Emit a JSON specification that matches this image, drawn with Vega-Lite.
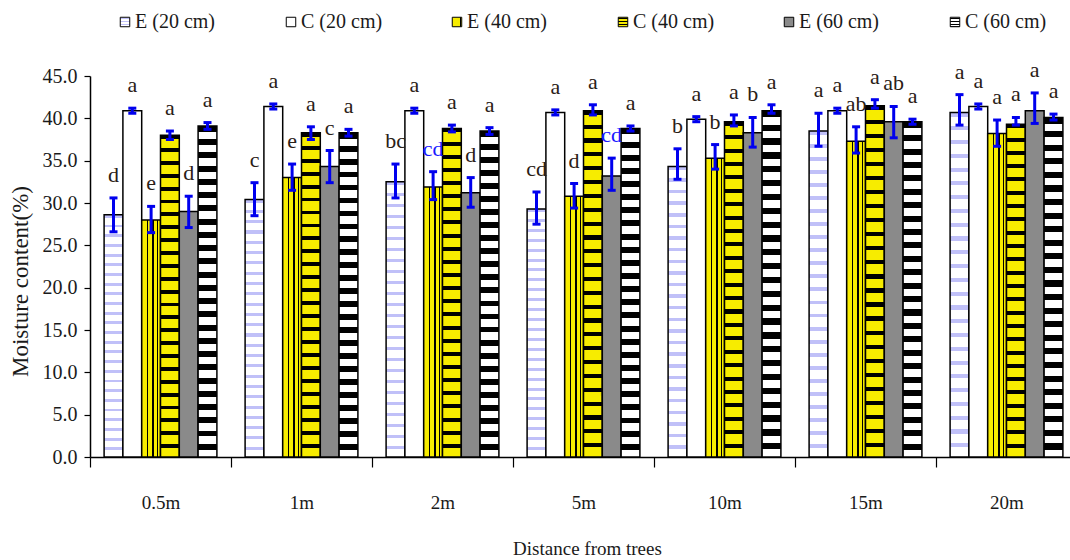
{
"$schema": "https://vega.github.io/schema/vega-lite/v6.json",
"width": 980,
"height": 381,
"autosize": {"type": "none"},
"padding": {"left": 90, "top": 76, "right": 0, "bottom": 103},
"background": "white",
"params": [
{"name": "gE20", "expr": "{gradient:'linear',x1:0,y1:0,x2:0,y2:1,stops:[{offset:0,color:'#c0c0f8'},{offset:0.012,color:'#c0c0f8'},{offset:0.012,color:'#fff'},{offset:0.04,color:'#fff'},{offset:0.04,color:'#c0c0f8'},{offset:0.052,color:'#c0c0f8'},{offset:0.052,color:'#fff'},{offset:0.08,color:'#fff'},{offset:0.08,color:'#c0c0f8'},{offset:0.092,color:'#c0c0f8'},{offset:0.092,color:'#fff'},{offset:0.12,color:'#fff'},{offset:0.12,color:'#c0c0f8'},{offset:0.132,color:'#c0c0f8'},{offset:0.132,color:'#fff'},{offset:0.16,color:'#fff'},{offset:0.16,color:'#c0c0f8'},{offset:0.172,color:'#c0c0f8'},{offset:0.172,color:'#fff'},{offset:0.2,color:'#fff'},{offset:0.2,color:'#c0c0f8'},{offset:0.212,color:'#c0c0f8'},{offset:0.212,color:'#fff'},{offset:0.24,color:'#fff'},{offset:0.24,color:'#c0c0f8'},{offset:0.252,color:'#c0c0f8'},{offset:0.252,color:'#fff'},{offset:0.28,color:'#fff'},{offset:0.28,color:'#c0c0f8'},{offset:0.292,color:'#c0c0f8'},{offset:0.292,color:'#fff'},{offset:0.32,color:'#fff'},{offset:0.32,color:'#c0c0f8'},{offset:0.332,color:'#c0c0f8'},{offset:0.332,color:'#fff'},{offset:0.36,color:'#fff'},{offset:0.36,color:'#c0c0f8'},{offset:0.372,color:'#c0c0f8'},{offset:0.372,color:'#fff'},{offset:0.4,color:'#fff'},{offset:0.4,color:'#c0c0f8'},{offset:0.412,color:'#c0c0f8'},{offset:0.412,color:'#fff'},{offset:0.44,color:'#fff'},{offset:0.44,color:'#c0c0f8'},{offset:0.452,color:'#c0c0f8'},{offset:0.452,color:'#fff'},{offset:0.48,color:'#fff'},{offset:0.48,color:'#c0c0f8'},{offset:0.492,color:'#c0c0f8'},{offset:0.492,color:'#fff'},{offset:0.52,color:'#fff'},{offset:0.52,color:'#c0c0f8'},{offset:0.532,color:'#c0c0f8'},{offset:0.532,color:'#fff'},{offset:0.56,color:'#fff'},{offset:0.56,color:'#c0c0f8'},{offset:0.572,color:'#c0c0f8'},{offset:0.572,color:'#fff'},{offset:0.6,color:'#fff'},{offset:0.6,color:'#c0c0f8'},{offset:0.612,color:'#c0c0f8'},{offset:0.612,color:'#fff'},{offset:0.64,color:'#fff'},{offset:0.64,color:'#c0c0f8'},{offset:0.652,color:'#c0c0f8'},{offset:0.652,color:'#fff'},{offset:0.68,color:'#fff'},{offset:0.68,color:'#c0c0f8'},{offset:0.692,color:'#c0c0f8'},{offset:0.692,color:'#fff'},{offset:0.72,color:'#fff'},{offset:0.72,color:'#c0c0f8'},{offset:0.732,color:'#c0c0f8'},{offset:0.732,color:'#fff'},{offset:0.76,color:'#fff'},{offset:0.76,color:'#c0c0f8'},{offset:0.772,color:'#c0c0f8'},{offset:0.772,color:'#fff'},{offset:0.8,color:'#fff'},{offset:0.8,color:'#c0c0f8'},{offset:0.812,color:'#c0c0f8'},{offset:0.812,color:'#fff'},{offset:0.84,color:'#fff'},{offset:0.84,color:'#c0c0f8'},{offset:0.852,color:'#c0c0f8'},{offset:0.852,color:'#fff'},{offset:0.88,color:'#fff'},{offset:0.88,color:'#c0c0f8'},{offset:0.892,color:'#c0c0f8'},{offset:0.892,color:'#fff'},{offset:0.92,color:'#fff'},{offset:0.92,color:'#c0c0f8'},{offset:0.932,color:'#c0c0f8'},{offset:0.932,color:'#fff'},{offset:0.96,color:'#fff'},{offset:0.96,color:'#c0c0f8'},{offset:0.972,color:'#c0c0f8'},{offset:0.972,color:'#fff'},{offset:1,color:'#fff'}]}"},
{"name": "gE40", "expr": "{gradient:'linear',x1:0,y1:0,x2:1,y2:0,stops:[{offset:0,color:'#f7ec00'},{offset:0.27,color:'#f7ec00'},{offset:0.27,color:'#000'},{offset:0.34,color:'#000'},{offset:0.34,color:'#f7ec00'},{offset:0.57,color:'#f7ec00'},{offset:0.57,color:'#000'},{offset:0.64,color:'#000'},{offset:0.64,color:'#f7ec00'},{offset:0.82,color:'#f7ec00'},{offset:0.82,color:'#000'},{offset:0.89,color:'#000'},{offset:0.89,color:'#f7ec00'},{offset:1,color:'#f7ec00'}]}"},
{"name": "gC40", "expr": "{gradient:'linear',x1:0,y1:0,x2:0,y2:1,stops:[{offset:0,color:'#000'},{offset:0.012,color:'#000'},{offset:0.012,color:'#f7ec00'},{offset:0.04,color:'#f7ec00'},{offset:0.04,color:'#000'},{offset:0.052,color:'#000'},{offset:0.052,color:'#f7ec00'},{offset:0.08,color:'#f7ec00'},{offset:0.08,color:'#000'},{offset:0.092,color:'#000'},{offset:0.092,color:'#f7ec00'},{offset:0.12,color:'#f7ec00'},{offset:0.12,color:'#000'},{offset:0.132,color:'#000'},{offset:0.132,color:'#f7ec00'},{offset:0.16,color:'#f7ec00'},{offset:0.16,color:'#000'},{offset:0.172,color:'#000'},{offset:0.172,color:'#f7ec00'},{offset:0.2,color:'#f7ec00'},{offset:0.2,color:'#000'},{offset:0.212,color:'#000'},{offset:0.212,color:'#f7ec00'},{offset:0.24,color:'#f7ec00'},{offset:0.24,color:'#000'},{offset:0.252,color:'#000'},{offset:0.252,color:'#f7ec00'},{offset:0.28,color:'#f7ec00'},{offset:0.28,color:'#000'},{offset:0.292,color:'#000'},{offset:0.292,color:'#f7ec00'},{offset:0.32,color:'#f7ec00'},{offset:0.32,color:'#000'},{offset:0.332,color:'#000'},{offset:0.332,color:'#f7ec00'},{offset:0.36,color:'#f7ec00'},{offset:0.36,color:'#000'},{offset:0.372,color:'#000'},{offset:0.372,color:'#f7ec00'},{offset:0.4,color:'#f7ec00'},{offset:0.4,color:'#000'},{offset:0.412,color:'#000'},{offset:0.412,color:'#f7ec00'},{offset:0.44,color:'#f7ec00'},{offset:0.44,color:'#000'},{offset:0.452,color:'#000'},{offset:0.452,color:'#f7ec00'},{offset:0.48,color:'#f7ec00'},{offset:0.48,color:'#000'},{offset:0.492,color:'#000'},{offset:0.492,color:'#f7ec00'},{offset:0.52,color:'#f7ec00'},{offset:0.52,color:'#000'},{offset:0.532,color:'#000'},{offset:0.532,color:'#f7ec00'},{offset:0.56,color:'#f7ec00'},{offset:0.56,color:'#000'},{offset:0.572,color:'#000'},{offset:0.572,color:'#f7ec00'},{offset:0.6,color:'#f7ec00'},{offset:0.6,color:'#000'},{offset:0.612,color:'#000'},{offset:0.612,color:'#f7ec00'},{offset:0.64,color:'#f7ec00'},{offset:0.64,color:'#000'},{offset:0.652,color:'#000'},{offset:0.652,color:'#f7ec00'},{offset:0.68,color:'#f7ec00'},{offset:0.68,color:'#000'},{offset:0.692,color:'#000'},{offset:0.692,color:'#f7ec00'},{offset:0.72,color:'#f7ec00'},{offset:0.72,color:'#000'},{offset:0.732,color:'#000'},{offset:0.732,color:'#f7ec00'},{offset:0.76,color:'#f7ec00'},{offset:0.76,color:'#000'},{offset:0.772,color:'#000'},{offset:0.772,color:'#f7ec00'},{offset:0.8,color:'#f7ec00'},{offset:0.8,color:'#000'},{offset:0.812,color:'#000'},{offset:0.812,color:'#f7ec00'},{offset:0.84,color:'#f7ec00'},{offset:0.84,color:'#000'},{offset:0.852,color:'#000'},{offset:0.852,color:'#f7ec00'},{offset:0.88,color:'#f7ec00'},{offset:0.88,color:'#000'},{offset:0.892,color:'#000'},{offset:0.892,color:'#f7ec00'},{offset:0.92,color:'#f7ec00'},{offset:0.92,color:'#000'},{offset:0.932,color:'#000'},{offset:0.932,color:'#f7ec00'},{offset:0.96,color:'#f7ec00'},{offset:0.96,color:'#000'},{offset:0.972,color:'#000'},{offset:0.972,color:'#f7ec00'},{offset:1,color:'#f7ec00'}]}"},
{"name": "gC60", "expr": "{gradient:'linear',x1:0,y1:0,x2:0,y2:1,stops:[{offset:0,color:'#000'},{offset:0.018,color:'#000'},{offset:0.018,color:'#fff'},{offset:0.04,color:'#fff'},{offset:0.04,color:'#000'},{offset:0.058,color:'#000'},{offset:0.058,color:'#fff'},{offset:0.08,color:'#fff'},{offset:0.08,color:'#000'},{offset:0.098,color:'#000'},{offset:0.098,color:'#fff'},{offset:0.12,color:'#fff'},{offset:0.12,color:'#000'},{offset:0.138,color:'#000'},{offset:0.138,color:'#fff'},{offset:0.16,color:'#fff'},{offset:0.16,color:'#000'},{offset:0.178,color:'#000'},{offset:0.178,color:'#fff'},{offset:0.2,color:'#fff'},{offset:0.2,color:'#000'},{offset:0.218,color:'#000'},{offset:0.218,color:'#fff'},{offset:0.24,color:'#fff'},{offset:0.24,color:'#000'},{offset:0.258,color:'#000'},{offset:0.258,color:'#fff'},{offset:0.28,color:'#fff'},{offset:0.28,color:'#000'},{offset:0.298,color:'#000'},{offset:0.298,color:'#fff'},{offset:0.32,color:'#fff'},{offset:0.32,color:'#000'},{offset:0.338,color:'#000'},{offset:0.338,color:'#fff'},{offset:0.36,color:'#fff'},{offset:0.36,color:'#000'},{offset:0.378,color:'#000'},{offset:0.378,color:'#fff'},{offset:0.4,color:'#fff'},{offset:0.4,color:'#000'},{offset:0.418,color:'#000'},{offset:0.418,color:'#fff'},{offset:0.44,color:'#fff'},{offset:0.44,color:'#000'},{offset:0.458,color:'#000'},{offset:0.458,color:'#fff'},{offset:0.48,color:'#fff'},{offset:0.48,color:'#000'},{offset:0.498,color:'#000'},{offset:0.498,color:'#fff'},{offset:0.52,color:'#fff'},{offset:0.52,color:'#000'},{offset:0.538,color:'#000'},{offset:0.538,color:'#fff'},{offset:0.56,color:'#fff'},{offset:0.56,color:'#000'},{offset:0.578,color:'#000'},{offset:0.578,color:'#fff'},{offset:0.6,color:'#fff'},{offset:0.6,color:'#000'},{offset:0.618,color:'#000'},{offset:0.618,color:'#fff'},{offset:0.64,color:'#fff'},{offset:0.64,color:'#000'},{offset:0.658,color:'#000'},{offset:0.658,color:'#fff'},{offset:0.68,color:'#fff'},{offset:0.68,color:'#000'},{offset:0.698,color:'#000'},{offset:0.698,color:'#fff'},{offset:0.72,color:'#fff'},{offset:0.72,color:'#000'},{offset:0.738,color:'#000'},{offset:0.738,color:'#fff'},{offset:0.76,color:'#fff'},{offset:0.76,color:'#000'},{offset:0.778,color:'#000'},{offset:0.778,color:'#fff'},{offset:0.8,color:'#fff'},{offset:0.8,color:'#000'},{offset:0.818,color:'#000'},{offset:0.818,color:'#fff'},{offset:0.84,color:'#fff'},{offset:0.84,color:'#000'},{offset:0.858,color:'#000'},{offset:0.858,color:'#fff'},{offset:0.88,color:'#fff'},{offset:0.88,color:'#000'},{offset:0.898,color:'#000'},{offset:0.898,color:'#fff'},{offset:0.92,color:'#fff'},{offset:0.92,color:'#000'},{offset:0.938,color:'#000'},{offset:0.938,color:'#fff'},{offset:0.96,color:'#fff'},{offset:0.96,color:'#000'},{offset:0.978,color:'#000'},{offset:0.978,color:'#fff'},{offset:1,color:'#fff'}]}"}
],
"data": {"values": [
{"d":"0.5m","s":"E (20 cm)","m":28.6,"lo":26.6,"hi":30.6,"l":"d"},
{"d":"0.5m","s":"C (20 cm)","m":40.9,"lo":40.6,"hi":41.2,"l":"a"},
{"d":"0.5m","s":"E (40 cm)","m":28.0,"lo":26.5,"hi":29.6,"l":"e"},
{"d":"0.5m","s":"C (40 cm)","m":38.0,"lo":37.5,"hi":38.5,"l":"a"},
{"d":"0.5m","s":"E (60 cm)","m":29.0,"lo":27.1,"hi":30.8,"l":"d"},
{"d":"0.5m","s":"C (60 cm)","m":39.1,"lo":38.7,"hi":39.5,"l":"a"},
{"d":"1m","s":"E (20 cm)","m":30.4,"lo":28.5,"hi":32.4,"l":"c"},
{"d":"1m","s":"C (20 cm)","m":41.4,"lo":41.1,"hi":41.7,"l":"a"},
{"d":"1m","s":"E (40 cm)","m":33.0,"lo":31.5,"hi":34.6,"l":"e"},
{"d":"1m","s":"C (40 cm)","m":38.3,"lo":37.5,"hi":39.0,"l":"a"},
{"d":"1m","s":"E (60 cm)","m":34.3,"lo":32.4,"hi":36.2,"l":"c"},
{"d":"1m","s":"C (60 cm)","m":38.3,"lo":37.9,"hi":38.7,"l":"a"},
{"d":"2m","s":"E (20 cm)","m":32.5,"lo":30.6,"hi":34.6,"l":"bc"},
{"d":"2m","s":"C (20 cm)","m":40.9,"lo":40.6,"hi":41.2,"l":"a"},
{"d":"2m","s":"E (40 cm)","m":31.9,"lo":30.4,"hi":33.7,"l":"cd"},
{"d":"2m","s":"C (40 cm)","m":38.8,"lo":38.4,"hi":39.2,"l":"a"},
{"d":"2m","s":"E (60 cm)","m":31.2,"lo":29.5,"hi":33.0,"l":"d"},
{"d":"2m","s":"C (60 cm)","m":38.5,"lo":38.1,"hi":38.9,"l":"a"},
{"d":"5m","s":"E (20 cm)","m":29.3,"lo":27.5,"hi":31.3,"l":"cd"},
{"d":"5m","s":"C (20 cm)","m":40.7,"lo":40.4,"hi":41.0,"l":"a"},
{"d":"5m","s":"E (40 cm)","m":30.8,"lo":29.4,"hi":32.3,"l":"d"},
{"d":"5m","s":"C (40 cm)","m":40.9,"lo":40.4,"hi":41.6,"l":"a"},
{"d":"5m","s":"E (60 cm)","m":33.2,"lo":31.5,"hi":35.3,"l":"cd"},
{"d":"5m","s":"C (60 cm)","m":38.8,"lo":38.5,"hi":39.1,"l":"a"},
{"d":"10m","s":"E (20 cm)","m":34.3,"lo":32.8,"hi":36.4,"l":"b"},
{"d":"10m","s":"C (20 cm)","m":39.9,"lo":39.6,"hi":40.2,"l":"a"},
{"d":"10m","s":"E (40 cm)","m":35.3,"lo":34.0,"hi":36.9,"l":"b"},
{"d":"10m","s":"C (40 cm)","m":39.6,"lo":39.1,"hi":40.4,"l":"a"},
{"d":"10m","s":"E (60 cm)","m":38.3,"lo":36.6,"hi":40.1,"l":"b"},
{"d":"10m","s":"C (60 cm)","m":40.9,"lo":40.6,"hi":41.6,"l":"a"},
{"d":"15m","s":"E (20 cm)","m":38.5,"lo":36.7,"hi":40.6,"l":"a"},
{"d":"15m","s":"C (20 cm)","m":40.9,"lo":40.6,"hi":41.2,"l":"a"},
{"d":"15m","s":"E (40 cm)","m":37.3,"lo":35.9,"hi":39.0,"l":"ab"},
{"d":"15m","s":"C (40 cm)","m":41.5,"lo":41.2,"hi":42.2,"l":"a"},
{"d":"15m","s":"E (60 cm)","m":39.6,"lo":37.7,"hi":41.4,"l":"ab"},
{"d":"15m","s":"C (60 cm)","m":39.6,"lo":39.3,"hi":39.9,"l":"a"},
{"d":"20m","s":"E (20 cm)","m":40.7,"lo":39.2,"hi":42.8,"l":"a"},
{"d":"20m","s":"C (20 cm)","m":41.4,"lo":41.1,"hi":41.7,"l":"a"},
{"d":"20m","s":"E (40 cm)","m":38.2,"lo":36.7,"hi":39.8,"l":"a"},
{"d":"20m","s":"C (40 cm)","m":39.3,"lo":39.2,"hi":40.1,"l":"a"},
{"d":"20m","s":"E (60 cm)","m":40.9,"lo":39.4,"hi":43.0,"l":"a"},
{"d":"20m","s":"C (60 cm)","m":40.1,"lo":39.8,"hi":40.5,"l":"a"}
]},
"encoding": {
  "x": {"field": "d", "type": "nominal",
    "scale": {"domain": ["0.5m","1m","2m","5m","10m","15m","20m"], "range": [0, 987], "paddingInner": 0, "paddingOuter": 0},
    "axis": {"title": "Distance from trees", "titleFont": "Liberation Serif", "titleFontSize": 19, "titleFontWeight": "normal", "titleColor": "#1a1a1a", "titleX": 497, "titleY": 91, "titleBaseline": "middle", "titleAnchor": "middle",
      "labelFont": "Liberation Serif", "labelFontSize": 19, "labelColor": "#1a1a1a", "labelAngle": 0, "labelPadding": 26, "labelDx": -5, "labelBound": false,
      "tickBand": "extent", "tickSize": 10, "tickColor": "black", "tickWidth": 1.2, "domainColor": "black", "domainWidth": 1.5}},
  "xOffset": {"field": "s", "type": "nominal",
    "scale": {"domain": ["E (20 cm)","C (20 cm)","E (40 cm)","C (40 cm)","E (60 cm)","C (60 cm)"], "paddingInner": 0, "paddingOuter": 0.75}}
},
"layer": [
  {"mark": {"type": "bar", "stroke": "black", "strokeWidth": 1.5, "opacity": 1},
   "encoding": {
     "y": {"field": "m", "type": "quantitative", "scale": {"domain": [0, 45], "nice": false, "zero": true},
       "axis": {"title": "Moisture content(%)", "values": [0,5,10,15,20,25,30,35,40,45], "format": ".1f",
         "labelFont": "Liberation Serif", "labelFontSize": 20, "labelColor": "#1a1a1a", "labelPadding": 7,
         "tickSize": 6, "tickColor": "black", "tickWidth": 1.2, "domainColor": "black", "domainWidth": 1.5, "grid": false,
         "titleFont": "Liberation Serif", "titleFontSize": 23, "titleFontWeight": "normal", "titleColor": "#1a1a1a",
         "titleX": -70, "titleY": 205, "titleAngle": -90, "titleBaseline": "middle", "titleAnchor": "middle"}},
     "fill": {"field": "s", "type": "nominal",
       "scale": {"domain": ["E (20 cm)","C (20 cm)","E (40 cm)","C (40 cm)","E (60 cm)","C (60 cm)"],
                 "range": [{"expr": "gE20"}, "#ffffff", {"expr": "gE40"}, {"expr": "gC40"}, "#8a8a8a", {"expr": "gC60"}]},
       "legend": {"title": null, "orient": "none", "legendX": 25, "legendY": -64, "direction": "horizontal", "columns": 6,
         "gridAlign": "all", "columnPadding": 64, "symbolType": "square", "symbolSize": 90, "symbolStrokeColor": "black", "symbolStrokeWidth": 1,
         "labelFont": "Liberation Serif", "labelFontSize": 20, "labelColor": "#1a1a1a", "labelOffset": 0, "labelLimit": 0}}
   }},
  {"mark": {"type": "rule", "color": "#0000ee", "strokeWidth": 3, "opacity": 1},
   "encoding": {"y": {"field": "lo", "type": "quantitative", "title": "Moisture content(%)"}, "y2": {"field": "hi"}}},
  {"mark": {"type": "tick", "color": "#0000ee", "size": 8, "thickness": 3, "opacity": 1},
   "encoding": {"y": {"field": "lo", "type": "quantitative", "title": "Moisture content(%)"}}},
  {"mark": {"type": "tick", "color": "#0000ee", "size": 8, "thickness": 3, "opacity": 1},
   "encoding": {"y": {"field": "hi", "type": "quantitative", "title": "Moisture content(%)"}}},
  {"mark": {"type": "text", "font": "Liberation Serif", "fontSize": 22, "baseline": "middle", "align": "center", "dy": -23},
   "encoding": {"y": {"field": "hi", "type": "quantitative", "title": "Moisture content(%)"}, "text": {"field": "l"},
     "color": {"condition": {"test": "(datum.d == '2m' && datum.s == 'E (40 cm)') || (datum.d == '5m' && datum.s == 'E (60 cm)')", "value": "#1a1aff"}, "value": "#2a2016"}}}
],
"config": {"view": {"stroke": null}, "axis": {"grid": false}}
}
